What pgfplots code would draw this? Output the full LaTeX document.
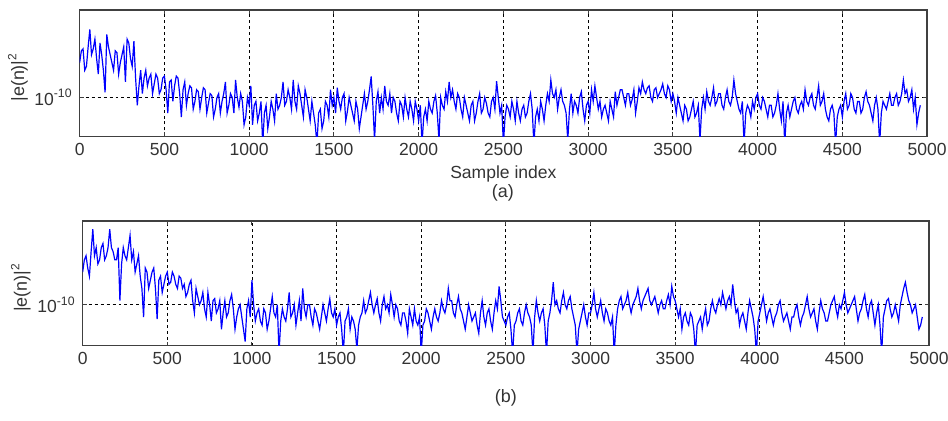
\documentclass[border=0pt]{standalone}
\usepackage{pgfplots}
\pgfplotsset{compat=1.18}
\usepackage{fontspec}
\setmainfont{Liberation Sans}
\definecolor{txt}{HTML}{333333}
\definecolor{frame}{HTML}{404040}
\pgfplotsset{
  errplot/.style={
    scale only axis,
    xmin=0, xmax=5000,
    ymin=-11,
    xtick={0,500,...,5000},
    ytick={-10},
    yticklabels={10\textsuperscript{-10}},
    xticklabel style={/pgf/number format/assume math mode=true, /pgf/number format/1000 sep={}, font=\fontsize{8.8}{10}\selectfont, text=txt},
    yticklabel style={font=\fontsize{8.8}{10}\selectfont, text=txt},
    scaled x ticks=false,
    grid=major,
    major grid style={black, line width=0.4pt, dash pattern=on 1.5pt off 1.5pt},
    axis line style={frame, line width=0.7pt},
    tick style={frame, line width=0.5pt},
    tick align=inside,
    major tick length=2pt,
    ylabel={|e(n)|\textsuperscript{2}},
    ylabel style={font=\fontsize{9}{10}\selectfont, text=txt, at={(axis description cs:0,0.5)}, anchor=center, yshift=31pt, xshift=-2pt},
    clip=true,
  }
}
\begin{document}
\begin{tikzpicture}
\path[use as bounding box] (0,0) rectangle (476pt,-211pt);
\begin{axis}[errplot, at={(40pt,-5pt)}, anchor=north west, width=425.5pt, height=63.5pt, ymax=-7.75]
\addplot[blue, line width=0.6pt] coordinates {
(0,-9.1)(10,-8.8)(20,-8.75)(30,-9.3)(40,-9.2)(50,-8.7)(60,-8.25)(70,-8.9)(80,-8.75)(90,-8.5)
(100,-9.0)(110,-9.4)(120,-8.6)(130,-8.9)(140,-9.3)(150,-9.87)(160,-8.38)(170,-8.7)(180,-8.9)(190,-9.1)
(200,-9.3)(210,-8.8)(220,-8.85)(230,-9.4)(240,-9.1)(250,-8.9)(260,-8.7)(270,-9.6)(280,-8.5)(290,-8.6)
(300,-9.0)(310,-9.2)(320,-8.55)(330,-9.5)(340,-10.2)(350,-9.7)(360,-9.3)(370,-9.9)(380,-9.5)(390,-9.3)
(400,-9.7)(410,-9.5)(420,-9.4)(430,-9.9)(440,-9.65)(450,-9.4)(460,-9.5)(470,-9.9)(480,-9.8)(490,-9.5)
(500,-9.45)(510,-9.8)(520,-10.4)(530,-9.6)(540,-9.55)(550,-10.1)(560,-9.7)(570,-9.45)(580,-9.5)(590,-9.9)
(600,-10.5)(610,-9.8)(620,-9.6)(630,-10.2)(640,-9.9)(650,-9.7)(660,-9.75)(670,-10.3)(680,-10.1)(690,-9.8)
(700,-9.85)(710,-10.3)(720,-10.0)(730,-9.75)(740,-9.8)(750,-10.4)(760,-10.15)(770,-9.9)(780,-9.95)(790,-10.5)
(800,-10.3)(810,-10.0)(820,-9.9)(830,-10.4)(840,-10.1)(850,-9.9)(860,-9.6)(870,-10.4)(880,-10.2)(890,-9.9)
(900,-10.0)(910,-10.4)(920,-9.55)(930,-10.0)(940,-10.25)(950,-9.9)(960,-10.1)(970,-10.7)(980,-10.5)(990,-10.0)
(1000,-10.2)(1010,-9.7)(1020,-10.7)(1030,-10.2)(1040,-10.1)(1050,-10.6)(1060,-10.4)(1070,-10.1)(1080,-11.2)(1090,-10.4)
(1100,-10.2)(1110,-10.8)(1120,-10.5)(1130,-10.1)(1140,-10.3)(1150,-10.6)(1160,-9.9)(1170,-10.3)(1180,-10.2)(1190,-10.0)
(1200,-9.6)(1210,-10.2)(1220,-10.1)(1230,-9.8)(1240,-10.0)(1250,-10.3)(1260,-9.55)(1270,-10.1)(1280,-10.3)(1290,-9.7)
(1300,-9.9)(1310,-10.2)(1320,-10.5)(1330,-9.8)(1340,-10.0)(1350,-10.3)(1360,-10.6)(1370,-10.1)(1380,-10.4)(1390,-10.7)
(1400,-11.2)(1410,-10.4)(1420,-10.3)(1430,-10.8)(1440,-10.6)(1450,-10.1)(1460,-10.2)(1470,-10.5)(1480,-9.8)(1490,-10.2)
(1500,-10.0)(1510,-10.4)(1520,-9.75)(1530,-10.1)(1540,-10.3)(1550,-10.0)(1560,-9.9)(1570,-10.6)(1580,-10.35)(1590,-10.0)
(1600,-10.2)(1610,-10.4)(1620,-10.6)(1630,-10.1)(1640,-10.3)(1650,-10.8)(1660,-10.5)(1670,-10.2)(1680,-9.9)(1690,-10.3)
(1700,-10.1)(1710,-9.8)(1720,-9.46)(1730,-10.2)(1740,-11.1)(1750,-10.1)(1760,-9.85)(1770,-10.4)(1780,-10.0)(1790,-10.3)
(1800,-9.7)(1810,-10.1)(1820,-10.2)(1830,-9.9)(1840,-10.4)(1850,-10.0)(1860,-10.1)(1870,-10.4)(1880,-10.6)(1890,-10.1)
(1900,-10.2)(1910,-10.5)(1920,-10.0)(1930,-10.3)(1940,-10.5)(1950,-10.1)(1960,-10.3)(1970,-10.6)(1980,-10.1)(1990,-10.3)
(2000,-10.6)(2010,-10.2)(2020,-11.2)(2030,-10.5)(2040,-10.3)(2050,-10.6)(2060,-10.1)(2070,-10.3)(2080,-10.4)(2090,-10.1)
(2100,-9.95)(2110,-10.4)(2120,-11.1)(2130,-10.0)(2140,-10.2)(2150,-10.3)(2160,-9.85)(2170,-10.1)(2180,-9.6)(2190,-10.0)
(2200,-9.8)(2210,-10.1)(2220,-10.3)(2230,-9.9)(2240,-10.0)(2250,-10.3)(2260,-10.5)(2270,-10.0)(2280,-10.2)(2290,-10.4)
(2300,-10.6)(2310,-10.2)(2320,-10.1)(2330,-10.6)(2340,-10.4)(2350,-10.1)(2360,-9.9)(2370,-10.4)(2380,-10.3)(2390,-10.0)
(2400,-10.15)(2410,-10.4)(2420,-10.5)(2430,-10.1)(2440,-10.0)(2450,-10.3)(2460,-9.58)(2470,-10.0)(2480,-10.4)(2490,-10.2)
(2500,-11.2)(2510,-10.5)(2520,-10.2)(2530,-10.3)(2540,-10.5)(2550,-10.1)(2560,-10.3)(2570,-10.6)(2580,-10.1)(2590,-10.4)
(2600,-10.6)(2610,-10.3)(2620,-10.2)(2630,-10.5)(2640,-10.4)(2650,-10.1)(2660,-9.9)(2670,-10.3)(2680,-11.2)(2690,-10.5)
(2700,-10.3)(2710,-10.6)(2720,-10.1)(2730,-10.3)(2740,-10.6)(2750,-10.2)(2760,-9.9)(2770,-10.1)(2780,-9.55)(2790,-9.9)
(2800,-10.0)(2810,-9.8)(2820,-10.3)(2830,-10.0)(2840,-9.8)(2850,-10.1)(2860,-10.2)(2870,-10.4)(2880,-11.1)(2890,-10.3)
(2900,-9.9)(2910,-10.4)(2920,-10.1)(2930,-10.2)(2940,-10.4)(2950,-10.0)(2960,-9.85)(2970,-10.3)(2980,-10.6)(2990,-10.2)
(3000,-10.1)(3010,-10.4)(3020,-9.8)(3030,-10.1)(3040,-9.7)(3050,-10.0)(3060,-10.3)(3070,-10.1)(3080,-10.5)(3090,-10.3)
(3100,-10.2)(3110,-10.4)(3120,-10.6)(3130,-10.1)(3140,-10.3)(3150,-10.5)(3160,-9.85)(3170,-10.2)(3180,-10.0)(3190,-9.8)
(3200,-9.8)(3210,-10.0)(3220,-10.2)(3230,-9.9)(3240,-9.9)(3250,-10.2)(3260,-10.05)(3270,-9.8)(3280,-10.4)(3290,-10.1)
(3300,-9.75)(3310,-9.9)(3320,-9.6)(3330,-9.8)(3340,-9.9)(3350,-9.75)(3360,-9.7)(3370,-10.0)(3380,-10.1)(3390,-9.8)
(3400,-9.75)(3410,-10.0)(3420,-9.9)(3430,-9.8)(3440,-9.65)(3450,-9.9)(3460,-10.0)(3470,-9.7)(3480,-9.8)(3490,-10.1)
(3500,-9.9)(3510,-10.1)(3520,-10.4)(3530,-10.0)(3540,-10.2)(3550,-10.4)(3560,-10.6)(3570,-10.2)(3580,-10.3)(3590,-10.6)
(3600,-10.5)(3610,-10.3)(3620,-10.1)(3630,-10.5)(3640,-10.4)(3650,-10.2)(3660,-11.1)(3670,-10.3)(3680,-10.0)(3690,-10.3)
(3700,-9.85)(3710,-10.1)(3720,-10.2)(3730,-10.0)(3740,-9.75)(3750,-10.2)(3760,-10.1)(3770,-9.9)(3780,-9.9)(3790,-10.2)
(3800,-10.3)(3810,-10.0)(3820,-9.8)(3830,-10.1)(3840,-10.2)(3850,-10.0)(3860,-9.55)(3870,-9.9)(3880,-10.1)(3890,-10.3)
(3900,-10.4)(3910,-10.1)(3920,-11.2)(3930,-10.4)(3940,-10.2)(3950,-10.3)(3960,-10.5)(3970,-10.1)(3980,-10.3)(3990,-10.0)
(4000,-9.9)(4010,-10.2)(4020,-10.3)(4030,-10.0)(4040,-10.1)(4050,-10.3)(4060,-10.5)(4070,-10.2)(4080,-10.2)(4090,-10.5)
(4100,-10.4)(4110,-10.2)(4120,-9.9)(4130,-10.3)(4140,-10.6)(4150,-10.1)(4160,-11.2)(4170,-10.4)(4180,-10.2)(4190,-10.5)
(4200,-10.3)(4210,-10.1)(4220,-10.0)(4230,-10.3)(4240,-10.4)(4250,-10.2)(4260,-10.1)(4270,-10.3)(4280,-9.8)(4290,-10.1)
(4300,-10.2)(4310,-10.0)(4320,-9.9)(4330,-10.2)(4340,-10.3)(4350,-10.0)(4360,-9.7)(4370,-10.2)(4380,-10.1)(4390,-9.9)
(4400,-10.3)(4410,-10.5)(4420,-10.6)(4430,-10.3)(4440,-10.2)(4450,-10.4)(4460,-11.2)(4470,-10.5)(4480,-10.3)(4490,-10.2)
(4500,-10.5)(4510,-10.1)(4520,-9.9)(4530,-10.3)(4540,-10.2)(4550,-9.9)(4560,-10.0)(4570,-10.3)(4580,-10.4)(4590,-10.1)
(4600,-10.1)(4610,-10.4)(4620,-10.3)(4630,-10.0)(4640,-9.85)(4650,-10.1)(4660,-10.2)(4670,-10.4)(4680,-10.6)(4690,-10.2)
(4700,-10.0)(4710,-10.3)(4720,-11.2)(4730,-10.4)(4740,-10.1)(4750,-10.2)(4760,-10.3)(4770,-10.1)(4780,-9.9)(4790,-10.2)
(4800,-10.2)(4810,-10.0)(4820,-9.9)(4830,-10.2)(4840,-10.1)(4850,-9.9)(4860,-9.55)(4870,-9.9)(4880,-9.8)(4890,-10.1)
(4900,-10.0)(4910,-9.8)(4920,-10.3)(4930,-10.0)(4940,-10.7)(4950,-10.4)(4960,-10.2)
};
\end{axis}
\node[font=\fontsize{8.8}{10}\selectfont, text=txt] at (252.75pt,-87.5pt) {Sample index};
\node[font=\fontsize{9}{10}\selectfont, text=txt] at (252.5pt,-97pt) {(a)};
\begin{axis}[errplot, at={(41.5pt,-111pt)}, anchor=north west, width=425pt, height=62.5pt, ymax=-7.95]
\addplot[blue, line width=0.6pt] coordinates {
(0,-9.2)(10,-8.9)(20,-8.8)(30,-9.1)(40,-9.3)(50,-8.7)(60,-8.15)(70,-8.8)(80,-8.6)(90,-9.0)
(100,-8.9)(110,-8.6)(120,-8.5)(130,-8.9)(140,-8.8)(150,-8.6)(160,-8.15)(170,-8.6)(180,-8.7)(190,-8.9)
(200,-8.9)(210,-8.6)(220,-9.9)(230,-9.0)(240,-8.6)(250,-8.8)(260,-8.9)(270,-8.6)(280,-8.3)(290,-8.9)
(300,-8.7)(310,-9.2)(320,-9.0)(330,-8.8)(340,-9.3)(350,-9.6)(360,-10.3)(370,-9.1)(380,-9.2)(390,-9.6)
(400,-9.4)(410,-9.2)(420,-9.1)(430,-9.6)(440,-10.35)(450,-9.4)(460,-9.3)(470,-9.7)(480,-9.5)(490,-9.3)
(500,-9.2)(510,-9.5)(520,-9.45)(530,-9.2)(540,-9.3)(550,-9.5)(560,-9.6)(570,-9.3)(580,-9.35)(590,-9.6)
(600,-9.5)(610,-9.8)(620,-9.7)(630,-9.5)(640,-9.4)(650,-9.9)(660,-10.2)(670,-9.6)(680,-9.8)(690,-10.0)
(700,-9.9)(710,-9.7)(720,-10.1)(730,-10.3)(740,-9.7)(750,-10.0)(760,-10.4)(770,-9.9)(780,-9.85)(790,-10.2)
(800,-10.1)(810,-9.9)(820,-10.6)(830,-10.2)(840,-9.9)(850,-10.3)(860,-10.2)(870,-9.9)(880,-9.75)(890,-10.1)
(900,-10.6)(910,-10.3)(920,-10.1)(930,-10.0)(940,-10.3)(950,-10.6)(960,-10.9)(970,-10.1)(980,-9.9)(990,-10.3)
(1000,-9.4)(1010,-10.0)(1020,-10.4)(1030,-10.2)(1040,-10.1)(1050,-10.4)(1060,-10.5)(1070,-10.1)(1080,-10.2)(1090,-10.6)
(1100,-10.4)(1110,-10.1)(1120,-9.8)(1130,-10.2)(1140,-10.3)(1150,-10.0)(1160,-11.2)(1170,-10.4)(1180,-10.1)(1190,-10.3)
(1200,-10.4)(1210,-10.1)(1220,-9.7)(1230,-10.3)(1240,-10.2)(1250,-10.0)(1260,-10.5)(1270,-10.2)(1280,-9.9)(1290,-10.4)
(1300,-9.6)(1310,-10.1)(1320,-10.3)(1330,-10.0)(1340,-10.0)(1350,-10.3)(1360,-10.5)(1370,-10.1)(1380,-10.2)(1390,-10.4)
(1400,-10.6)(1410,-10.3)(1420,-10.0)(1430,-10.2)(1440,-10.4)(1450,-10.1)(1460,-9.85)(1470,-10.2)(1480,-10.3)(1490,-10.1)
(1500,-10.5)(1510,-10.3)(1520,-10.2)(1530,-10.6)(1540,-11.2)(1550,-10.4)(1560,-10.3)(1570,-10.1)(1580,-10.6)(1590,-10.3)
(1600,-10.4)(1610,-10.6)(1620,-11.1)(1630,-10.5)(1640,-10.3)(1650,-10.2)(1660,-9.9)(1670,-10.2)(1680,-10.1)(1690,-9.9)
(1700,-9.7)(1710,-10.0)(1720,-10.2)(1730,-10.0)(1740,-9.85)(1750,-10.2)(1760,-10.4)(1770,-10.0)(1780,-9.8)(1790,-10.1)
(1800,-10.0)(1810,-10.2)(1820,-9.75)(1830,-10.0)(1840,-10.3)(1850,-10.0)(1860,-10.1)(1870,-10.4)(1880,-10.5)(1890,-10.2)
(1900,-10.2)(1910,-10.4)(1920,-10.7)(1930,-10.1)(1940,-10.3)(1950,-10.5)(1960,-10.1)(1970,-10.4)(1980,-10.5)(1990,-10.3)
(2000,-11.2)(2010,-10.5)(2020,-10.4)(2030,-10.1)(2040,-10.2)(2050,-10.4)(2060,-10.6)(2070,-10.3)(2080,-10.1)(2090,-10.3)
(2100,-10.4)(2110,-10.2)(2120,-9.9)(2130,-10.1)(2140,-10.2)(2150,-10.0)(2160,-9.6)(2170,-9.9)(2180,-9.9)(2190,-10.2)
(2200,-10.3)(2210,-10.0)(2220,-9.8)(2230,-10.1)(2240,-10.2)(2250,-10.4)(2260,-10.6)(2270,-10.3)(2280,-10.0)(2290,-10.2)
(2300,-10.4)(2310,-10.3)(2320,-10.2)(2330,-10.5)(2340,-10.7)(2350,-10.2)(2360,-9.9)(2370,-10.3)(2380,-10.5)(2390,-10.2)
(2400,-10.1)(2410,-10.4)(2420,-10.6)(2430,-10.2)(2440,-9.9)(2450,-10.1)(2460,-9.55)(2470,-9.9)(2480,-10.3)(2490,-10.4)
(2500,-10.5)(2510,-10.3)(2520,-10.2)(2530,-10.6)(2540,-11.2)(2550,-10.5)(2560,-10.4)(2570,-10.2)(2580,-10.1)(2590,-10.4)
(2600,-10.5)(2610,-10.2)(2620,-10.0)(2630,-10.2)(2640,-10.3)(2650,-10.5)(2660,-11.2)(2670,-10.3)(2680,-9.9)(2690,-10.2)
(2700,-10.4)(2710,-10.2)(2720,-10.1)(2730,-10.5)(2740,-11.2)(2750,-10.4)(2760,-10.2)(2770,-9.9)(2780,-9.45)(2790,-10.0)
(2800,-9.9)(2810,-10.1)(2820,-10.2)(2830,-9.9)(2840,-9.7)(2850,-10.0)(2860,-10.1)(2870,-9.9)(2880,-9.8)(2890,-10.1)
(2900,-10.3)(2910,-10.5)(2920,-11.2)(2930,-10.6)(2940,-10.4)(2950,-10.2)(2960,-10.0)(2970,-10.3)(2980,-10.5)(2990,-10.2)
(3000,-10.2)(3010,-10.0)(3020,-9.7)(3030,-10.1)(3040,-10.3)(3050,-10.1)(3060,-9.9)(3070,-10.2)(3080,-10.4)(3090,-10.1)
(3100,-10.2)(3110,-10.4)(3120,-10.5)(3130,-10.3)(3140,-11.2)(3150,-10.5)(3160,-10.1)(3170,-9.9)(3180,-9.8)(3190,-10.1)
(3200,-10.0)(3210,-9.9)(3220,-9.7)(3230,-10.0)(3240,-10.2)(3250,-10.0)(3260,-9.9)(3270,-9.8)(3280,-9.6)(3290,-9.9)
(3300,-10.1)(3310,-9.9)(3320,-9.8)(3330,-9.7)(3340,-9.6)(3350,-9.9)(3360,-10.0)(3370,-9.9)(3380,-9.8)(3390,-10.0)
(3400,-10.2)(3410,-10.0)(3420,-9.9)(3430,-10.1)(3440,-10.1)(3450,-9.9)(3460,-9.75)(3470,-10.0)(3480,-9.55)(3490,-9.8)
(3500,-9.9)(3510,-10.1)(3520,-10.3)(3530,-10.1)(3540,-10.6)(3550,-10.3)(3560,-10.2)(3570,-10.4)(3580,-10.5)(3590,-10.2)
(3600,-10.3)(3610,-10.6)(3620,-11.2)(3630,-10.5)(3640,-10.4)(3650,-10.3)(3660,-10.6)(3670,-10.3)(3680,-10.1)(3690,-10.5)
(3700,-10.4)(3710,-10.1)(3720,-9.9)(3730,-10.1)(3740,-10.2)(3750,-10.0)(3760,-9.85)(3770,-10.0)(3780,-9.7)(3790,-9.9)
(3800,-10.1)(3810,-9.9)(3820,-9.8)(3830,-10.0)(3840,-9.5)(3850,-9.9)(3860,-10.2)(3870,-10.1)(3880,-10.5)(3890,-10.3)
(3900,-10.2)(3910,-10.4)(3920,-10.6)(3930,-10.2)(3940,-9.9)(3950,-10.1)(3960,-10.3)(3970,-10.6)(3980,-11.2)(3990,-10.4)
(4000,-10.2)(4010,-10.0)(4020,-9.8)(4030,-10.1)(4040,-10.4)(4050,-10.2)(4060,-10.1)(4070,-10.3)(4080,-10.5)(4090,-10.3)
(4100,-10.2)(4110,-10.0)(4120,-9.9)(4130,-10.2)(4140,-10.4)(4150,-10.3)(4160,-10.2)(4170,-10.4)(4180,-10.6)(4190,-10.3)
(4200,-10.3)(4210,-10.1)(4220,-10.0)(4230,-10.3)(4240,-10.5)(4250,-10.3)(4260,-10.2)(4270,-10.0)(4280,-9.8)(4290,-10.1)
(4300,-10.3)(4310,-10.2)(4320,-10.1)(4330,-10.4)(4340,-10.6)(4350,-10.2)(4360,-9.9)(4370,-10.1)(4380,-10.2)(4390,-10.4)
(4400,-10.4)(4410,-10.2)(4420,-10.0)(4430,-9.9)(4440,-9.8)(4450,-10.1)(4460,-10.3)(4470,-10.0)(4480,-10.1)(4490,-9.9)
(4500,-9.7)(4510,-10.0)(4520,-10.2)(4530,-10.1)(4540,-10.0)(4550,-9.9)(4560,-9.8)(4570,-10.1)(4580,-10.4)(4590,-10.2)
(4600,-10.1)(4610,-9.9)(4620,-9.75)(4630,-10.1)(4640,-10.3)(4650,-10.0)(4660,-9.9)(4670,-10.2)(4680,-10.5)(4690,-10.2)
(4700,-10.0)(4710,-10.5)(4720,-11.2)(4730,-10.3)(4740,-10.1)(4750,-9.9)(4760,-9.85)(4770,-10.1)(4780,-10.3)(4790,-10.2)
(4800,-10.0)(4810,-10.2)(4820,-10.4)(4830,-10.0)(4840,-9.8)(4850,-9.6)(4860,-9.45)(4870,-9.7)(4880,-9.9)(4890,-10.0)
(4900,-10.2)(4910,-10.1)(4920,-10.0)(4930,-10.3)(4940,-10.6)(4950,-10.5)(4960,-10.3)
};
\end{axis}
\node[font=\fontsize{9}{10}\selectfont, text=txt] at (254pt,-200pt) {(b)};
\end{tikzpicture}
\end{document}
